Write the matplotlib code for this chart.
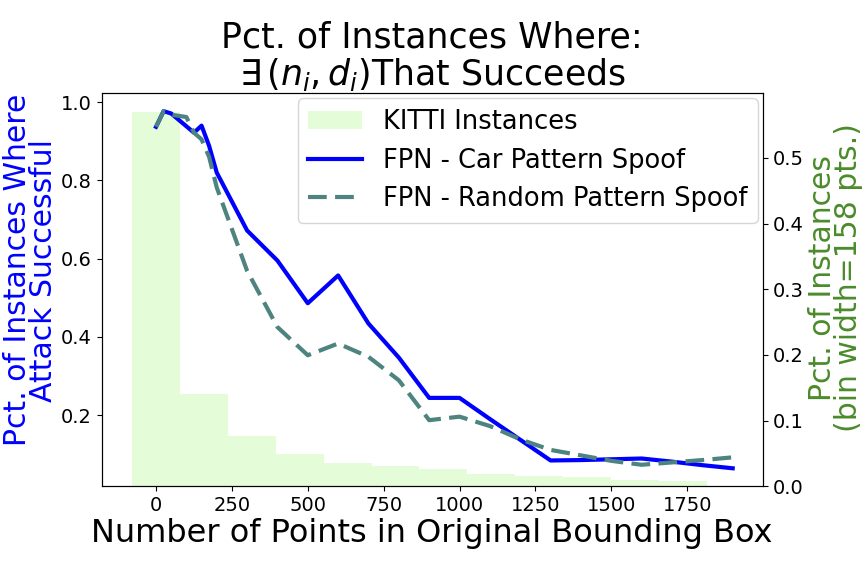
import matplotlib
matplotlib.use("Agg")
import matplotlib.pyplot as plt
import numpy as np

# Histogram (KITTI instances), bin width 158 pts
bin_edges = [-80, 78, 236, 394, 552, 710, 868, 1026, 1184, 1342, 1500, 1658, 1816]
bin_pct = [0.570, 0.141, 0.0766, 0.0497, 0.0355, 0.0304, 0.026, 0.0183, 0.0157,
           0.0132, 0.0101, 0.0076]

# Success curves
car_x = [0, 25, 50, 125, 150, 175, 200, 300, 400, 500, 600, 700, 800, 900, 1000,
         1100, 1200, 1300, 1400, 1500, 1600, 1700, 1800, 1900]
car_y = [0.937, 0.977, 0.971, 0.922, 0.940, 0.888, 0.820, 0.672, 0.595, 0.486, 0.557,
         0.434, 0.347, 0.244, 0.244, 0.190, 0.137, 0.084, 0.085, 0.087, 0.089,
         0.081, 0.072, 0.064]
rand_x = [0, 25, 50, 100, 125, 150, 175, 200, 300, 400, 500, 600, 700, 800, 900, 1000,
          1100, 1200, 1300, 1400, 1500, 1600, 1700, 1800, 1900]
rand_y = [0.937, 0.977, 0.968, 0.962, 0.922, 0.905, 0.860, 0.782, 0.569, 0.425, 0.353,
          0.383, 0.349, 0.289, 0.187, 0.196, 0.172, 0.138, 0.111, 0.097, 0.083,
          0.073, 0.079, 0.085, 0.092]

fig = plt.figure(figsize=(8.64, 5.76), dpi=100)
ax = fig.add_axes([0.1177, 0.156, 0.7651, 0.682])
ax2 = ax.twinx()

centers = [(bin_edges[i] + bin_edges[i + 1]) / 2 for i in range(len(bin_pct))]
h = ax2.hist(centers, bins=bin_edges, weights=bin_pct, color='#e4fcd8',
             label='KITTI Instances')
l1, = ax.plot(car_x, car_y, color='#0000ff', lw=3, label='FPN - Car Pattern Spoof')
l2, = ax.plot(rand_x, rand_y, color='#4d8480', lw=3, ls='--', dashes=(4.5, 2.0),
              label='FPN - Random Pattern Spoof')

ax.set_zorder(ax2.get_zorder() + 1)
ax.patch.set_visible(False)

ax.set_xlabel('Number of Points in Original Bounding Box', fontsize=23, labelpad=2)
ax.set_ylabel('Pct. of Instances Where\nAttack Successful', fontsize=21.5, color='#0000ff',
              linespacing=0.9, labelpad=2)
ax2.set_ylabel('Pct. of Instances\n(bin width=158 pts.)', fontsize=21.5, color='#4b8b2b',
               linespacing=0.9, labelpad=3)
ax.yaxis.label.set_y(0.55)
ax2.yaxis.label.set_y(0.53)
ax.set_title('Pct. of Instances Where:\n' + r'$\exists\,(n_i, d_i)$' + 'That Succeeds',
             fontsize=25, linespacing=1.05)

ax.tick_params(labelsize=14)
ax2.tick_params(labelsize=14)
ax.set_yticks([0.2, 0.4, 0.6, 0.8, 1.0])
ax.set_xticks([0, 250, 500, 750, 1000, 1250, 1500, 1750])

handles = [h[2][0], l1, l2]
ax.legend(handles, [hh.get_label() for hh in handles], loc='upper right', fontsize=18.5,
          handlelength=2.1, borderaxespad=0.2)

fig.savefig('out.png', dpi=100)
